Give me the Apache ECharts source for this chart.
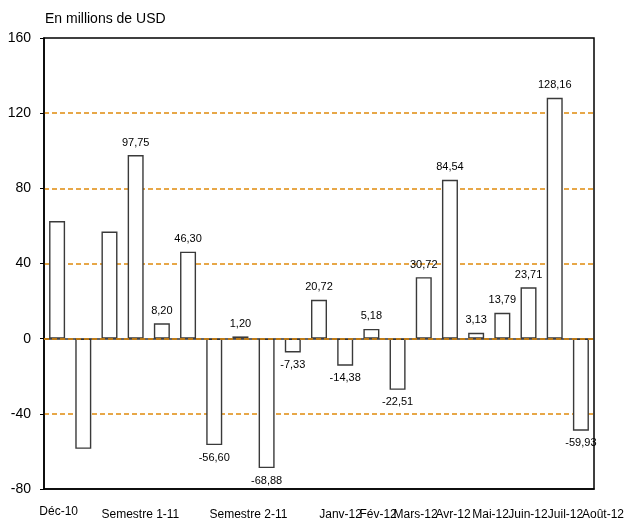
<!DOCTYPE html>
<html>
<head>
<meta charset="utf-8">
<title>En millions de USD</title>
<script src="https://cdn.jsdelivr.net/npm/echarts@6/dist/echarts.min.js"></script>
<style>
  html, body { margin: 0; padding: 0; background: #fff; }
  #main { width: 627px; height: 521px; }
</style>
</head>
<body>
<div id="main"></div>
<script>
// valeurs des barres
var barValues = [62.6, -58.6, 57.0, 97.75, 8.20, 46.30, -56.60, 1.20, -68.88, -7.33, 20.72,
    -14.38, 5.18, -27.2, 32.7, 84.54, 3.13, 13.79, 27.3, 128.16, -49.0];
// étiquettes affichées au-dessus / en dessous des barres
var labelTexts = ['', '', '', '97,75', '8,20', '46,30', '-56,60', '1,20', '-68,88', '-7,33', '20,72',
    '-14,38', '5,18', '-22,51', '30,72', '84,54', '3,13', '13,79', '23,71', '128,16', '-59,93'];
// libellés de l'axe x et la barre sous laquelle ils tombent
var tickLabels = ['Déc-10', 'Semestre 1-11', 'Semestre 2-11', 'Janv-12', 'Fév-12', 'Mars-12',
    'Avr-12', 'Mai-12', 'Juin-12', 'Juil-12', 'Août-12'];
var tickIndex = [0, 3, 7, 11, 12, 14, 15, 16, 18, 19, 20];
// graduations de l'axe y
var yTicks = [-80, -40, 0, 40, 80, 120, 160];

// décalage horizontal des libellés (px), pour coller à l'original
var labelShift = [1.6, 4.7, 8, -4.6, 6.7, -8.2, 3.1, 14.4, -0.5, 10.8, 22.1];

var orange = '#e08a0c';
var font = '"Liberation Sans", Arial, sans-serif';

var categories = barValues.map(function () { return ''; });
tickIndex.forEach(function (idx, k) { categories[idx] = tickLabels[k]; });

var rich = {};
tickLabels.forEach(function (t, k) {
    var s = labelShift[k];
    rich['r' + k] = {
        fontSize: 12,
        fontFamily: font,
        color: '#000',
        padding: [k === 0 ? 0 : 3, s < 0 ? -2 * s : 0, 0, s > 0 ? 2 * s : 0]
    };
});

var chartDom = document.getElementById('main');
var myChart = echarts.init(chartDom);
var option;

var drawChart = function () {
    option = {
        animation: false,
        backgroundColor: '#fff',
        title: {
            text: 'En millions de USD',
            left: 45,
            top: 12,
            padding: 0,
            textStyle: { fontSize: 14, fontWeight: 'normal', color: '#000', fontFamily: font }
        },
        grid: {
            left: 44, right: 32, top: 38, bottom: 32,
            show: true, borderColor: '#000', borderWidth: 1.5, backgroundColor: 'transparent'
        },
        xAxis: {
            type: 'category',
            data: categories,
            axisLine: { show: true, onZero: false, lineStyle: { color: '#000', width: 1.5 } },
            axisTick: { show: false },
            axisLabel: {
                interval: 0,
                margin: 17,
                formatter: function (value) {
                    var k = tickLabels.indexOf(value);
                    return k < 0 ? '' : '{r' + k + '|' + value + '}';
                },
                rich: rich
            },
            splitLine: { show: false }
        },
        yAxis: {
            type: 'value',
            min: yTicks[0],
            max: yTicks[yTicks.length - 1],
            interval: 40,
            axisLine: { show: true, lineStyle: { color: '#000', width: 1.5 } },
            axisTick: { show: true, length: 4, lineStyle: { color: '#000', width: 1 } },
            axisLabel: { color: '#000', fontSize: 14, fontFamily: font, margin: 13 },
            splitLine: {
                show: true,
                showMinLine: false,
                showMaxLine: false,
                lineStyle: { color: orange, type: [5, 3], width: 1.5 }
            }
        },
        series: [
            {
                type: 'bar',
                barWidth: 16,
                data: barValues.map(function (v) {
                    return {
                        value: v,
                        label: { position: v >= 0 ? 'top' : 'bottom' }
                    };
                }),
                itemStyle: { color: '#fff', borderColor: '#3a3a3a', borderWidth: 1.4 },
                label: {
                    show: true,
                    distance: 7,
                    fontSize: 11,
                    fontFamily: font,
                    color: '#000',
                    formatter: function (p) { return labelTexts[p.dataIndex]; }
                },
                markLine: {
                    silent: true,
                    symbol: 'none',
                    label: { show: false },
                    data: [
                        { yAxis: 0, lineStyle: { color: '#333', type: 'solid', width: 1.5 } },
                        { yAxis: 0, lineStyle: { color: orange, type: [5, 3], width: 1.5 } }
                    ]
                }
            }
        ]
    };
    option && myChart.setOption(option);
};

drawChart();
</script>
</body>
</html>
